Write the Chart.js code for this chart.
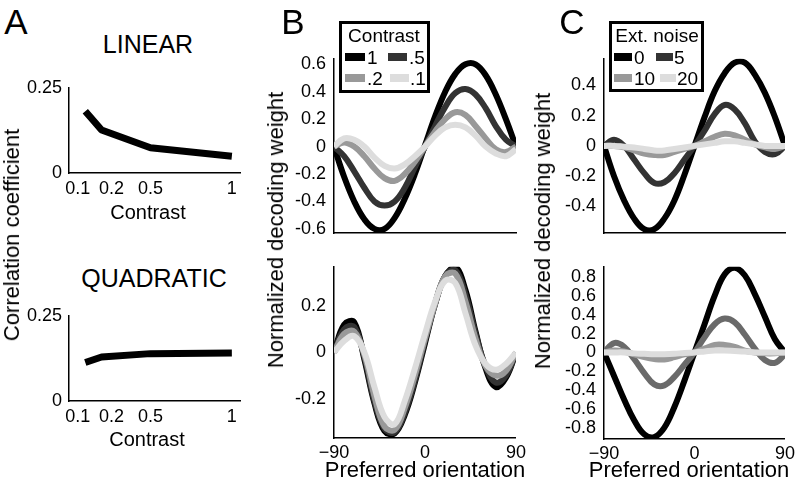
<!DOCTYPE html>
<html>
<head>
<meta charset="utf-8">
<script src="https://cdn.jsdelivr.net/npm/chart.js@4.4.0/dist/chart.umd.min.js"></script>
<style>
  body { margin: 0; background: #fff; font-family: "Liberation Sans", Arial, sans-serif; color: #000; }
  #fig { position: relative; width: 796px; height: 490px; overflow: hidden; background: #fff; }
  canvas { position: absolute; }
  .txt { position: absolute; transform: translate(-50%, -50%); white-space: nowrap; line-height: 1; }
  .rot { transform: translate(-50%, -50%) rotate(-90deg); }
  .legend { position: absolute; border: 3px solid #000; background: #fff; box-sizing: border-box; }
  .sw { position: absolute; height: 8px; transform: translateY(-50%); }
  .lab { position: absolute; white-space: nowrap; line-height: 1; font-size: 19px; transform: translateY(-50%); }
</style>
</head>
<body>
<div id="fig"></div>
<script>
// panel A
var contrast = [0.1, 0.2, 0.5, 1];
var corrLinear = [0.181, 0.126, 0.074, 0.049];
var corrQuadratic = [0.113, 0.129, 0.139, 0.141];
var contrastTicks = [0.1, 0.2, 0.5, 1];
// first two labels are nudged apart in the original, hence the padding spaces
var contrastTickLabels = ['0.1\u00a0\u00a0\u00a0', '\u00a0\u00a0\u00a0\u00a00.2', '0.5', '1'];
var corrTicks = [0, 0.25];
var corrTickLabels = ['0', '0.25'];

// panels B and C, x axis
var orientation = [-90, -80, -70, -60, -50, -40, -30, -20, -10, 0, 10, 20, 30, 40, 50, 60, 70, 80, 90];
var orientTicks = [-90, 0, 90];
var orientTickLabels = ['\u221290', '0', '90'];

// panel B, contrast 1 / .5 / .2 / .1
var contrastNames = ['1', '.5', '.2', '.1'];
var linC1  = [0, -0.22, -0.40, -0.53, -0.60, -0.60, -0.52, -0.38, -0.20, 0.01, 0.22, 0.40, 0.53, 0.60, 0.60, 0.52, 0.38, 0.20, 0];
var linC05 = [0, -0.07, -0.18, -0.30, -0.40, -0.43, -0.40, -0.30, -0.15, 0.0, 0.15, 0.29, 0.39, 0.42, 0.38, 0.28, 0.15, 0.05, 0];
var linC02 = [0, 0.03, 0.0, -0.07, -0.16, -0.23, -0.25, -0.20, -0.11, 0.0, 0.11, 0.20, 0.25, 0.23, 0.15, 0.06, -0.02, -0.04, 0];
var linC01 = [0, 0.06, 0.05, 0.0, -0.08, -0.14, -0.16, -0.13, -0.07, 0.0, 0.08, 0.14, 0.16, 0.14, 0.08, 0.0, -0.05, -0.07, -0.02];
var quadC1  = [0, 0.12, 0.13, -0.03, -0.22, -0.34, -0.35, -0.27, -0.13, 0.04, 0.21, 0.33, 0.37, 0.27, 0.09, -0.07, -0.15, -0.11, 0];
var quadC05 = [0, 0.10, 0.11, -0.02, -0.21, -0.33, -0.345, -0.26, -0.12, 0.05, 0.21, 0.33, 0.355, 0.25, 0.08, -0.06, -0.13, -0.10, 0];
var quadC02 = [0, 0.08, 0.09, -0.01, -0.19, -0.32, -0.335, -0.24, -0.10, 0.06, 0.21, 0.33, 0.34, 0.22, 0.06, -0.06, -0.10, -0.08, 0];
var quadC01 = [0, 0.05, 0.07, 0.0, -0.15, -0.28, -0.31, -0.21, -0.07, 0.08, 0.22, 0.31, 0.30, 0.17, 0.03, -0.05, -0.075, -0.05, 0];
var bLinTicks = [-0.6, -0.4, -0.2, 0, 0.2, 0.4, 0.6];
var bLinTickLabels = ['-0.6', '-0.4', '-0.2', '0', '0.2', '0.4', '0.6'];
var bQuadTicks = [-0.2, 0, 0.2];
var bQuadTickLabels = ['-0.2', '0', '0.2'];

// panel C, external noise 0 / 5 / 10 / 20
var noiseNames = ['0', '5', '10', '20'];
var linN0  = [0, -0.20, -0.36, -0.48, -0.55, -0.55, -0.48, -0.36, -0.19, 0.0, 0.19, 0.36, 0.48, 0.55, 0.55, 0.47, 0.35, 0.19, 0];
var linN5  = [0, 0.04, 0.0, -0.09, -0.18, -0.245, -0.24, -0.18, -0.09, 0.0, 0.10, 0.21, 0.27, 0.24, 0.15, 0.03, -0.04, -0.055, 0];
var linN10 = [0, 0.0, -0.01, -0.03, -0.05, -0.06, -0.06, -0.04, -0.02, 0.0, 0.03, 0.06, 0.08, 0.07, 0.04, 0.01, -0.01, -0.02, 0];
var linN20 = [0, 0.0, -0.005, -0.01, -0.02, -0.03, -0.03, -0.02, -0.01, 0, 0.01, 0.02, 0.03, 0.03, 0.02, 0.01, 0.0, 0.0, 0];
var quadN0  = [0, -0.25, -0.50, -0.72, -0.87, -0.90, -0.80, -0.58, -0.30, 0.0, 0.30, 0.60, 0.83, 0.90, 0.82, 0.62, 0.38, 0.14, 0];
var quadN5  = [0, 0.10, 0.06, -0.07, -0.22, -0.34, -0.35, -0.26, -0.13, 0.0, 0.16, 0.30, 0.36, 0.32, 0.19, 0.04, -0.08, -0.11, -0.02];
var quadN10 = [0, 0.02, 0.01, -0.02, -0.05, -0.07, -0.075, -0.05, -0.02, 0.0, 0.04, 0.08, 0.08, 0.06, 0.02, 0.0, -0.01, -0.01, 0];
var quadN20 = [0, 0, 0, -0.01, -0.015, -0.02, -0.02, -0.015, -0.005, 0, 0.01, 0.02, 0.02, 0.015, 0.01, 0, 0, 0, 0];
var cLinTicks = [-0.4, -0.2, 0, 0.2, 0.4];
var cLinTickLabels = ['-0.4', '-0.2', '0', '0.2', '0.4'];
var cQuadTicks = [-0.8, -0.6, -0.4, -0.2, 0, 0.2, 0.4, 0.6, 0.8];
var cQuadTickLabels = ['-0.8', '-0.6', '-0.4', '-0.2', '0', '0.2', '0.4', '0.6', '0.8'];

var greys = ['#000000', '#333333', '#999999', '#dddddd'];
var greysQuadNoise = ['#000000', '#6a6a6a', '#999999', '#dddddd'];

var fig = document.getElementById('fig');
var FONT = '"Liberation Sans", Arial, sans-serif';

function axis(a, dir, size) {
    return {
        type: 'linear',
        min: a.min,
        max: a.max,
        grid: { display: false, drawTicks: false },
        border: { display: true, color: '#000', width: 1.5 },
        afterBuildTicks: function (s) {
            s.ticks = a.ticks.map(function (v) { return { value: v }; });
        },
        afterFit: function (s) {
            if (dir === 'x') { s.height = size; } else { s.width = size; }
        },
        ticks: {
            display: !!a.labels,
            autoSkip: false,
            maxRotation: 0,
            padding: a.pad,
            color: '#000',
            font: { family: FONT, size: 18 },
            callback: function (v, i) { return a.labels ? a.labels[i] : ''; }
        }
    };
}

function makePanel(area, xs, series, xAxis, yAxis) {
    var yw = 60, xh = 40, pt = 12, pr = 14;
    var w = area.r - area.l + yw + pr;
    var h = area.b - area.t + pt + xh;
    var cv = document.createElement('canvas');
    cv.width = w;
    cv.height = h;
    cv.style.left = (area.l - yw) + 'px';
    cv.style.top = (area.t - pt) + 'px';
    cv.style.width = w + 'px';
    cv.style.height = h + 'px';
    fig.appendChild(cv);

    new Chart(cv.getContext('2d'), {
        type: 'line',
        data: {
            datasets: series.map(function (s, i) {
                return {
                    data: xs.map(function (x, k) { return { x: x, y: s.values[k] }; }),
                    borderColor: s.color,
                    borderWidth: s.width,
                    pointRadius: 0,
                    tension: s.tension,
                    borderJoinStyle: 'round',
                    fill: false,
                    order: series.length - i
                };
            })
        },
        options: {
            responsive: false,
            animation: false,
            layout: { padding: { top: pt, right: pr, left: 0, bottom: 0 } },
            plugins: { legend: { display: false }, tooltip: { enabled: false } },
            scales: {
                x: axis(xAxis, 'x', xh),
                y: axis(yAxis, 'y', yw)
            }
        }
    });
}

function curves(list, colors) {
    return list.map(function (v, i) { return { values: v, color: colors[i], width: 6, tension: 0.4 }; });
}

// A
makePanel({ l: 69, r: 240, t: 82, b: 173 }, contrast,
    [{ values: corrLinear, color: '#000', width: 7, tension: 0 }],
    { min: 0, max: 1.05, ticks: contrastTicks, labels: contrastTickLabels, pad: 5 },
    { min: 0, max: 0.25, ticks: corrTicks, labels: corrTickLabels, pad: 7 });
makePanel({ l: 69, r: 240, t: 310, b: 401 }, contrast,
    [{ values: corrQuadratic, color: '#000', width: 7, tension: 0 }],
    { min: 0, max: 1.05, ticks: contrastTicks, labels: contrastTickLabels, pad: 5 },
    { min: 0, max: 0.25, ticks: corrTicks, labels: corrTickLabels, pad: 7 });

// B
makePanel({ l: 334, r: 516, t: 52, b: 233 }, orientation,
    curves([linC1, linC05, linC02, linC01], greys),
    { min: -90, max: 90, ticks: orientTicks, labels: null, pad: 4 },
    { min: -0.63, max: 0.64, ticks: bLinTicks, labels: bLinTickLabels, pad: 8 });
makePanel({ l: 334, r: 516, t: 260, b: 438 }, orientation,
    curves([quadC1, quadC05, quadC02, quadC01], greys),
    { min: -90, max: 90, ticks: orientTicks, labels: orientTickLabels, pad: 4 },
    { min: -0.37, max: 0.37, ticks: bQuadTicks, labels: bQuadTickLabels, pad: 8 });

// C
makePanel({ l: 604, r: 785, t: 52, b: 233 }, orientation,
    curves([linN0, linN5, linN10, linN20], greys),
    { min: -90, max: 90, ticks: orientTicks, labels: null, pad: 4 },
    { min: -0.575, max: 0.575, ticks: cLinTicks, labels: cLinTickLabels, pad: 8 });
makePanel({ l: 604, r: 785, t: 260, b: 439 }, orientation,
    curves([quadN0, quadN5, quadN10, quadN20], greysQuadNoise),
    { min: -90, max: 90, ticks: orientTicks, labels: orientTickLabels, pad: 4 },
    { min: -0.92, max: 0.91, ticks: cQuadTicks, labels: cQuadTickLabels, pad: 8 });

function text(str, x, y, size, rotate) {
    var d = document.createElement('div');
    d.className = rotate ? 'txt rot' : 'txt';
    d.style.left = x + 'px';
    d.style.top = y + 'px';
    d.style.fontSize = size + 'px';
    d.textContent = str;
    fig.appendChild(d);
}

text('A', 16, 21, 35);
text('B', 293, 21, 35);
text('C', 572, 21, 35);
text('LINEAR', 148, 44, 25);
text('QUADRATIC', 154, 278, 25);
text('Contrast', 148, 212, 20);
text('Contrast', 147, 439, 20);
text('Correlation coefficient', 12, 235, 22, true);
text('Normalized decoding weight', 276, 230, 22, true);
text('Normalized decoding weight', 543, 231, 22, true);
text('Preferred orientation', 425, 470, 22);
text('Preferred orientation', 689, 470, 22);

function legend(box, title, names, colors, items) {
    var b = document.createElement('div');
    b.className = 'legend';
    b.style.left = box.l + 'px';
    b.style.top = box.t + 'px';
    b.style.width = box.w + 'px';
    b.style.height = box.h + 'px';
    fig.appendChild(b);
    text(title, box.tx, box.ty, 19);
    items.forEach(function (it, i) {
        var s = document.createElement('div');
        s.className = 'sw';
        s.style.left = it[0] + 'px';
        s.style.top = it[1] + 'px';
        s.style.width = it[2] + 'px';
        s.style.background = colors[i];
        fig.appendChild(s);
        var l = document.createElement('div');
        l.className = 'lab';
        l.style.left = it[3] + 'px';
        l.style.top = it[1] + 'px';
        l.textContent = names[i];
        fig.appendChild(l);
    });
}

legend({ l: 339, t: 21, w: 91, h: 72, tx: 384, ty: 35 }, 'Contrast', contrastNames, greys,
    [[345, 57, 20, 367], [388, 57, 19, 409], [345, 78, 20, 367], [390, 78, 19, 410]]);
legend({ l: 609, t: 21, w: 95, h: 71, tx: 657, ty: 35 }, 'Ext. noise', noiseNames, greys,
    [[614, 57, 18, 634], [656, 57, 17, 674], [614, 78, 18, 634], [660, 78, 16, 677]]);
</script>
</body>
</html>
